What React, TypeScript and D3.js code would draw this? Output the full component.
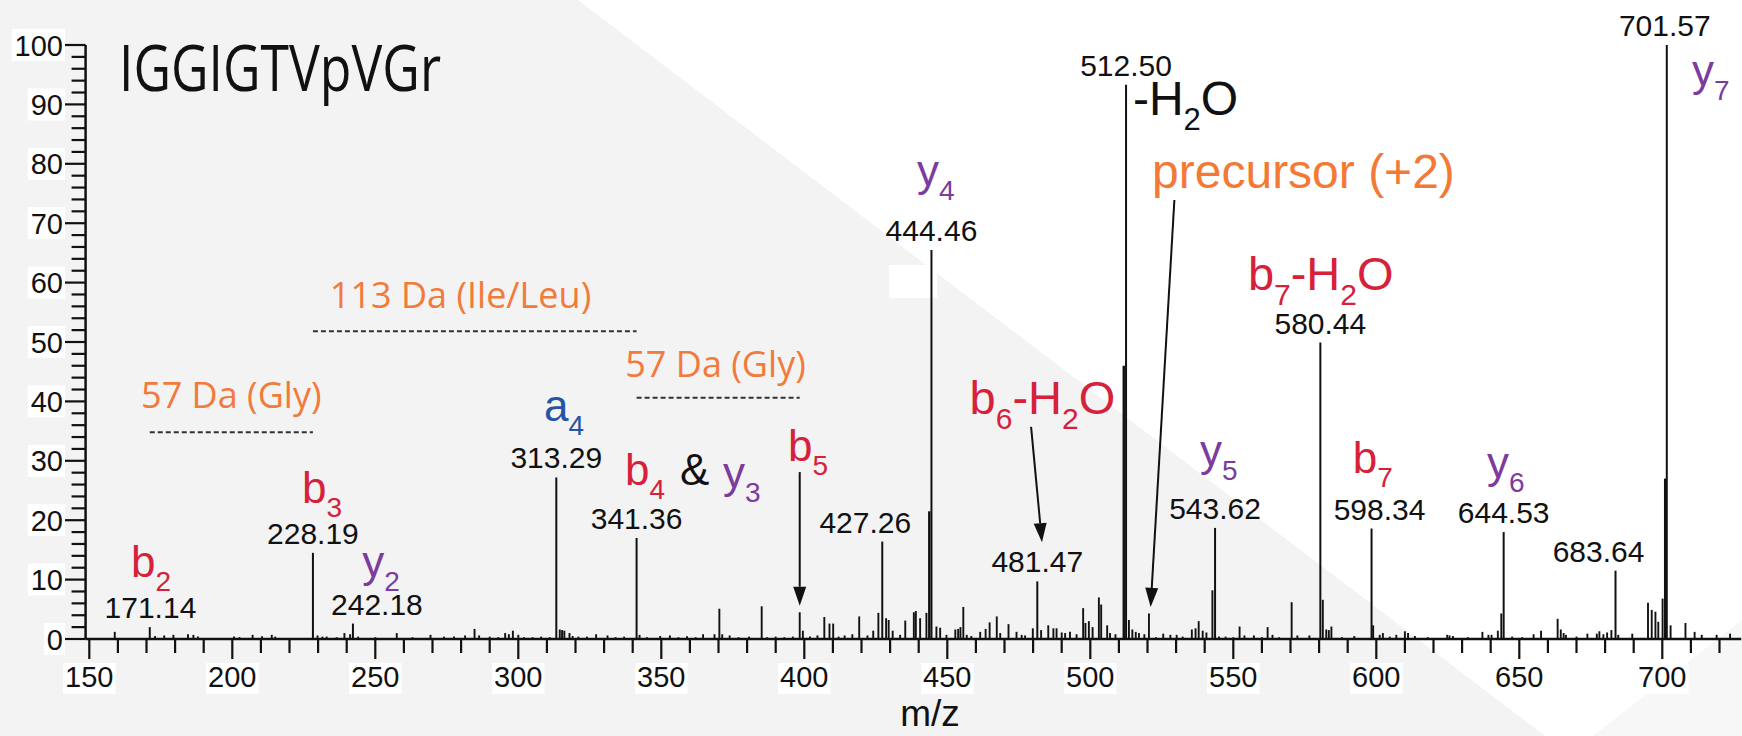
import React from 'react';
import * as d3 from 'd3';

const W = 1742;
const H = 736;

// ---------- data ----------
const peptide = 'IGGIGTVpVGr';
const xTickLabels = [150, 200, 250, 300, 350, 400, 450, 500, 550, 600, 650, 700];
const yTickLabels = [0, 10, 20, 30, 40, 50, 60, 70, 80, 90, 100];

// labelled peaks (m/z, relative intensity %)
const labeledMz = [171.14, 228.19, 242.18, 313.29, 341.36, 427.26, 444.46, 481.47, 512.5, 543.62, 580.44, 598.34, 644.53, 683.64, 701.57];
const labeledIntensity = [2.0, 14.5, 2.6, 27.2, 17.0, 16.4, 65.5, 9.7, 93.3, 18.7, 49.9, 18.6, 18.0, 11.5, 100];
const labeledText = ['171.14', '228.19', '242.18', '313.29', '341.36', '427.26', '444.46', '481.47', '512.50', '543.62', '580.44', '598.34', '644.53', '683.64', '701.57'];

// unlabelled peaks (m/z, relative intensity %)
const otherMz = [
  158.9, 173.0, 176.2, 179.4, 184.5, 186.4, 188.0, 200.6, 202.5, 207.1, 210.4, 213.8, 215.0,
  229.8, 231.5, 233.0, 236.5, 239.2, 241.2, 244.0, 250.0, 257.5, 263.0, 269.3, 274.0, 277.5,
  281.4, 284.7, 286.3, 290.0, 293.0, 295.4, 296.7, 298.1, 300.0, 302.0, 305.0, 308.0, 311.0,
  314.5, 315.3, 316.1, 317.9, 319.0, 321.0, 324.0, 327.2, 331.2, 334.0, 337.0, 342.4, 345.0,
  349.6, 353.0, 356.0, 359.0, 362.0, 364.6, 368.6, 370.3, 371.3, 373.9, 377.0, 380.7, 385.1,
  387.0, 390.0, 393.0, 396.0, 398.4, 399.5, 402.0, 404.6, 407.0, 408.8, 410.1, 412.0, 414.1,
  416.8, 419.2, 422.1, 424.1, 425.9, 428.6, 429.5, 430.9, 433.5, 435.3, 438.3, 439.0, 440.5,
  442.7, 443.7, 446.2, 447.5, 449.7, 452.8, 453.8, 454.6, 455.6, 456.8, 458.4, 461.5, 463.4,
  464.8, 467.3, 468.5, 471.4, 474.2, 476.0, 477.2, 479.9, 482.8, 485.3, 487.1, 488.2, 490.0,
  491.2, 492.9, 495.2, 497.5, 498.3, 499.5, 500.8, 503.0, 503.8, 505.9, 506.9, 508.8, 511.7,
  513.5, 514.7, 515.9, 517.0, 518.9, 520.5, 523.0, 525.5, 528.0, 530.2, 532.3, 535.5, 536.8,
  537.9, 539.3, 540.6, 542.7, 545.0, 547.3, 550.0, 552.2, 553.9, 557.2, 560.0, 562.0, 563.7,
  566.0, 570.4, 572.4, 576.6, 581.3, 582.5, 583.4, 584.3, 588.0, 592.3, 598.9, 601.2, 602.3,
  604.7, 607.0, 610.0, 611.1, 613.5, 618.0, 624.8, 625.6, 626.8, 632.0, 637.1, 639.2, 640.3,
  642.5, 643.7, 647.5, 651.0, 655.0, 657.6, 663.4, 664.5, 665.5, 666.3, 670.0, 673.8, 677.1,
  678.0, 679.4, 680.7, 682.2, 684.6, 689.5, 695.0, 696.3, 697.6, 698.6, 700.1, 701.0, 702.9,
  708.1, 711.3, 713.8, 719.0, 723.7,
];
const otherIntensity = [
  1.2, 0.5, 0.6, 0.7, 0.8, 0.7, 0.4, 0.4, 0.3, 0.7, 0.45, 0.7, 0.4,
  0.6, 0.4, 0.4, 0.3, 1.0, 0.8, 0.4, 0.3, 1.0, 0.3, 0.7, 0.4, 0.4,
  0.6, 1.7, 0.6, 0.4, 0.3, 1.0, 0.8, 1.4, 0.7, 0.3, 0.3, 0.4, 0.3,
  1.6, 1.5, 1.4, 1.0, 0.5, 0.4, 0.4, 0.8, 0.6, 0.3, 0.4, 0.7, 0.3,
  0.5, 0.6, 0.3, 0.45, 0.3, 0.8, 0.8, 5.1, 0.8, 0.6, 0.3, 0.4, 5.5,
  0.3, 0.4, 0.3, 0.4, 4.5, 1.4, 0.4, 0.6, 3.7, 2.6, 2.6, 0.4, 0.6,
  0.8, 3.8, 0.6, 1.4, 4.4, 3.5, 3.2, 1.4, 0.7, 3.1, 4.5, 4.7, 3.5,
  4.4, 21.5, 2.1, 1.9, 0.7, 1.6, 1.7, 2.0, 5.4, 0.7, 0.5, 1.2, 1.7,
  2.8, 3.8, 1.0, 2.5, 1.2, 0.7, 0.6, 1.8, 1.5, 2.3, 1.8, 1.8, 1.1,
  1.0, 1.2, 0.8, 5.2, 2.7, 3.0, 2.0, 7.0, 5.8, 2.3, 1.0, 0.8, 46.0,
  3.2, 1.6, 1.2, 1.0, 0.8, 4.3, 0.3, 0.9, 0.7, 0.7, 0.4, 1.6, 1.8,
  3.0, 1.4, 1.1, 8.2, 0.4, 0.4, 0.3, 2.1, 0.6, 0.6, 0.3, 2.0, 0.7,
  0.3, 6.2, 0.6, 0.6, 6.6, 1.6, 1.5, 2.1, 0.3, 0.5, 2.3, 0.7, 1.0,
  0.4, 0.7, 1.3, 1.0, 0.5, 0.3, 0.7, 0.6, 0.5, 0.3, 1.2, 0.7, 0.7,
  1.4, 4.3, 0.4, 0.3, 0.8, 1.4, 3.4, 1.6, 1.0, 0.7, 0.4, 0.9, 0.9,
  1.3, 0.8, 1.1, 1.5, 0.7, 0.9, 6.1, 4.9, 4.6, 2.9, 6.8, 27.0, 2.3,
  2.7, 1.2, 0.7, 0.7, 0.9,
];

// ion annotations: text uses _{..} for subscripts; kind selects colour
const ionText = ['b_{2}', 'b_{3}', 'y_{2}', 'a_{4}', 'b_{4}', '&', 'y_{3}', 'b_{5}', 'y_{4}', 'b_{6}-H_{2}O', '-H_{2}O', 'precursor (+2)', 'b_{7}-H_{2}O', 'y_{5}', 'b_{7}', 'y_{6}', 'y_{7}'];
const ionKind = ['b', 'b', 'y', 'a', 'b', 'n', 'y', 'b', 'y', 'b', 'n', 'p', 'b', 'y', 'b', 'y', 'y'];
// anchor (m/z, intensity) of each annotation's left baseline
const ionAnchorMz = [164.6, 224.4, 245.4, 309.0, 337.3, 356.5, 371.6, 394.3, 439.4, 457.8, 514.9, 521.6, 555.1, 538.4, 591.8, 638.7, 710.4];
const ionAnchorInt = [10.4, 22.9, 10.4, 36.7, 25.9, 25.9, 25.4, 30.0, 76.3, 37.9, 88.2, 75.9, 58.8, 29.1, 27.9, 27.1, 93.1];
// font size of each annotation (main text)
const ionFontSize = [44, 44, 44, 44, 44, 44, 44, 44, 44, 47, 48, 48, 47, 44, 44, 44, 44];

// mass-difference brackets
const diffText = ['57 Da (Gly)', '113 Da (Ile/Leu)', '57 Da (Gly)'];
const diffFromMz = [171.14, 228.19, 341.36];
const diffToMz = [228.19, 341.36, 398.4];
const diffLevel = [34.8, 51.8, 40.6];
const diffTextMz = [168.1, 234.1, 337.4];
const diffTextInt = [38.9, 55.8, 44.1];

// arrows (from -> to, in m/z / intensity)
const arrowFromMz = [398.4, 479.3, 529.4];
const arrowFromInt = [28.1, 35.7, 73.9];
const arrowToMz = [398.4, 483.1, 521.1];
const arrowToInt = [5.6, 16.3, 5.4];

// ---------- layout ----------
const xScale = d3.scaleLinear().domain([150, 700]).range([89.3, 1662.3]);
const yScale = d3.scaleLinear().domain([0, 100]).range([639, 45]);
const X_AXIS_MIN = 148.7;
const X_AXIS_MAX = 727.6;
const labelDx = [0.7, 0, 24, 0, 0, -17, 0, 0, 0, 0, 0, 8, 0, -17, -2];

const COLORS: Record<string, string> = {
  b: '#d6213a',
  y: '#7b3c9e',
  a: '#2654a3',
  p: '#f37a36',
  n: '#111111',
};
const ORANGE = '#f27a3a';
const ARIAL = '"Liberation Sans", Arial, Helvetica, sans-serif';
const HUMANIST = '"Open Sans", "Noto Sans", sans-serif';

function parseParts(t: string) {
  const parts: { s: string; sub: boolean }[] = [];
  const re = /_\{([^}]*)\}/g;
  let last = 0;
  let m: RegExpExecArray | null;
  while ((m = re.exec(t))) {
    if (m.index > last) parts.push({ s: t.slice(last, m.index), sub: false });
    parts.push({ s: m[1], sub: true });
    last = m.index + m[0].length;
  }
  if (last < t.length) parts.push({ s: t.slice(last), sub: false });
  return parts;
}

function IonLabel({ text, kind, x, y, fs }: { text: string; kind: string; x: number; y: number; fs: number }) {
  const parts = parseParts(text);
  const SUB = Math.round(fs * 0.32);
  const subFs = Math.round(fs * 0.64);
  let cur = 0;
  return (
    <text x={x} y={y} fontFamily={ARIAL} fontSize={fs} fill={COLORS[kind]}>
      {parts.map((p, i) => {
        const target = p.sub ? SUB : 0;
        const dy = target - cur;
        cur = target;
        return (
          <tspan key={i} dy={dy} fontSize={p.sub ? subFs : fs}>
            {p.s}
          </tspan>
        );
      })}
    </text>
  );
}

function Arrow({ x1, y1, x2, y2 }: { x1: number; y1: number; x2: number; y2: number }) {
  const dx = x2 - x1;
  const dy = y2 - y1;
  const len = Math.sqrt(dx * dx + dy * dy);
  const ux = dx / len;
  const uy = dy / len;
  const hl = 19;
  const hw = 6.5;
  const bx = x2 - ux * hl;
  const by = y2 - uy * hl;
  const pts = [
    [x2, y2],
    [bx - uy * hw, by + ux * hw],
    [bx + uy * hw, by - ux * hw],
  ]
    .map((p) => p.join(','))
    .join(' ');
  return (
    <g>
      <line x1={x1} y1={y1} x2={bx} y2={by} stroke="#111" strokeWidth={2} />
      <polygon points={pts} fill="#111" />
    </g>
  );
}

export default function App() {
  const y0 = yScale(0);
  const yAxisX = xScale(X_AXIS_MIN);
  const minorX = d3.range(150, 721, 10);
  const minorY = d3.range(0, 101, 2);
  const tickFs = 29;

  return (
    <svg
      width={W}
      height={H}
      viewBox={`0 0 ${W} ${H}`}
      style={{ position: 'absolute', left: 0, top: 0, display: 'block' }}
    >
      {/* background */}
      <rect x={0} y={0} width={W} height={H} fill="#f3f3f3" />
      <polygon points={`578,0 ${W},0 ${W},${H} 1545,${H}`} fill="#ffffff" />
      <polygon points={`1593,${H} ${W},620 ${W},${H}`} fill="#f7f7f7" />
      <rect x={889} y={265} width={48} height={33} fill="#ffffff" />

      {/* title */}
      <text x={119} y={91} fontFamily={HUMANIST} fontSize={64} fill="#111" textLength={322} lengthAdjust="spacingAndGlyphs">
        {peptide}
      </text>

      {/* y axis */}
      <line x1={yAxisX} y1={yScale(100)} x2={yAxisX} y2={y0} stroke="#111" strokeWidth={2.5} />
      {minorY.map((v) => (
        <line
          key={'ym' + v}
          x1={v % 10 === 0 ? yAxisX - 21 : yAxisX - 14}
          x2={yAxisX}
          y1={yScale(v)}
          y2={yScale(v)}
          stroke="#111"
          strokeWidth={2.2}
        />
      ))}
      {yTickLabels.map((v) => {
        const s = String(v);
        const w = s.length * 0.556 * tickFs;
        return (
          <g key={'yl' + v}>
            <rect x={63 - w - 3} y={yScale(v) - 16} width={w + 5} height={32} fill="#fff" />
            <text x={63} y={yScale(v) + 10.5} textAnchor="end" fontFamily={ARIAL} fontSize={tickFs} fill="#111">
              {s}
            </text>
          </g>
        );
      })}

      {/* x axis */}
      <line x1={yAxisX} y1={y0} x2={xScale(X_AXIS_MAX)} y2={y0} stroke="#111" strokeWidth={2.5} />
      {minorX.map((v) => (
        <line
          key={'xm' + v}
          x1={xScale(v)}
          x2={xScale(v)}
          y1={y0}
          y2={v % 50 === 0 ? y0 + 20 : y0 + 14}
          stroke="#111"
          strokeWidth={2.2}
        />
      ))}
      {xTickLabels.map((v) => {
        const s = String(v);
        const w = s.length * 0.556 * tickFs;
        return (
          <g key={'xl' + v}>
            <rect x={xScale(v) - w / 2 - 2} y={y0 + 24} width={w + 4} height={31} fill="#fff" />
            <text x={xScale(v)} y={y0 + 48} textAnchor="middle" fontFamily={ARIAL} fontSize={tickFs} fill="#111">
              {s}
            </text>
          </g>
        );
      })}
      <text x={930} y={726} textAnchor="middle" fontFamily={ARIAL} fontSize={37} fill="#111">
        m/z
      </text>

      {/* peaks */}
      {otherMz.map((mz, i) => (
        <line
          key={'p' + i}
          x1={xScale(mz)}
          x2={xScale(mz)}
          y1={y0}
          y2={yScale(otherIntensity[i])}
          stroke="#111"
          strokeWidth={otherIntensity[i] > 10 ? 2.4 : 1.9}
        />
      ))}
      {labeledMz.map((mz, i) => (
        <line
          key={'lp' + i}
          x1={xScale(mz)}
          x2={xScale(mz)}
          y1={y0}
          y2={yScale(labeledIntensity[i])}
          stroke="#111"
          strokeWidth={2}
        />
      ))}
      {labeledMz.map((mz, i) => (
        <text
          key={'lt' + i}
          x={xScale(mz) + labelDx[i]}
          y={yScale(labeledIntensity[i]) - 9}
          textAnchor="middle"
          fontFamily={ARIAL}
          fontSize={30}
          fill="#111"
        >
          {labeledText[i]}
        </text>
      ))}

      {/* mass differences */}
      {diffText.map((t, i) => (
        <g key={'d' + i}>
          <line
            x1={xScale(diffFromMz[i])}
            x2={xScale(diffToMz[i])}
            y1={yScale(diffLevel[i])}
            y2={yScale(diffLevel[i])}
            stroke="#333"
            strokeWidth={2}
            strokeDasharray="5,3"
          />
          <text x={xScale(diffTextMz[i])} y={yScale(diffTextInt[i])} fontFamily={HUMANIST} fontSize={36} fill={ORANGE}>
            {t}
          </text>
        </g>
      ))}

      {/* arrows */}
      {arrowFromMz.map((m, i) => (
        <Arrow
          key={'a' + i}
          x1={xScale(m)}
          y1={yScale(arrowFromInt[i])}
          x2={xScale(arrowToMz[i])}
          y2={yScale(arrowToInt[i])}
        />
      ))}

      {/* ion labels */}
      {ionText.map((t, i) => (
        <IonLabel
          key={'ion' + i}
          text={t}
          kind={ionKind[i]}
          x={xScale(ionAnchorMz[i])}
          y={yScale(ionAnchorInt[i])}
          fs={ionFontSize[i]}
        />
      ))}
    </svg>
  );
}
